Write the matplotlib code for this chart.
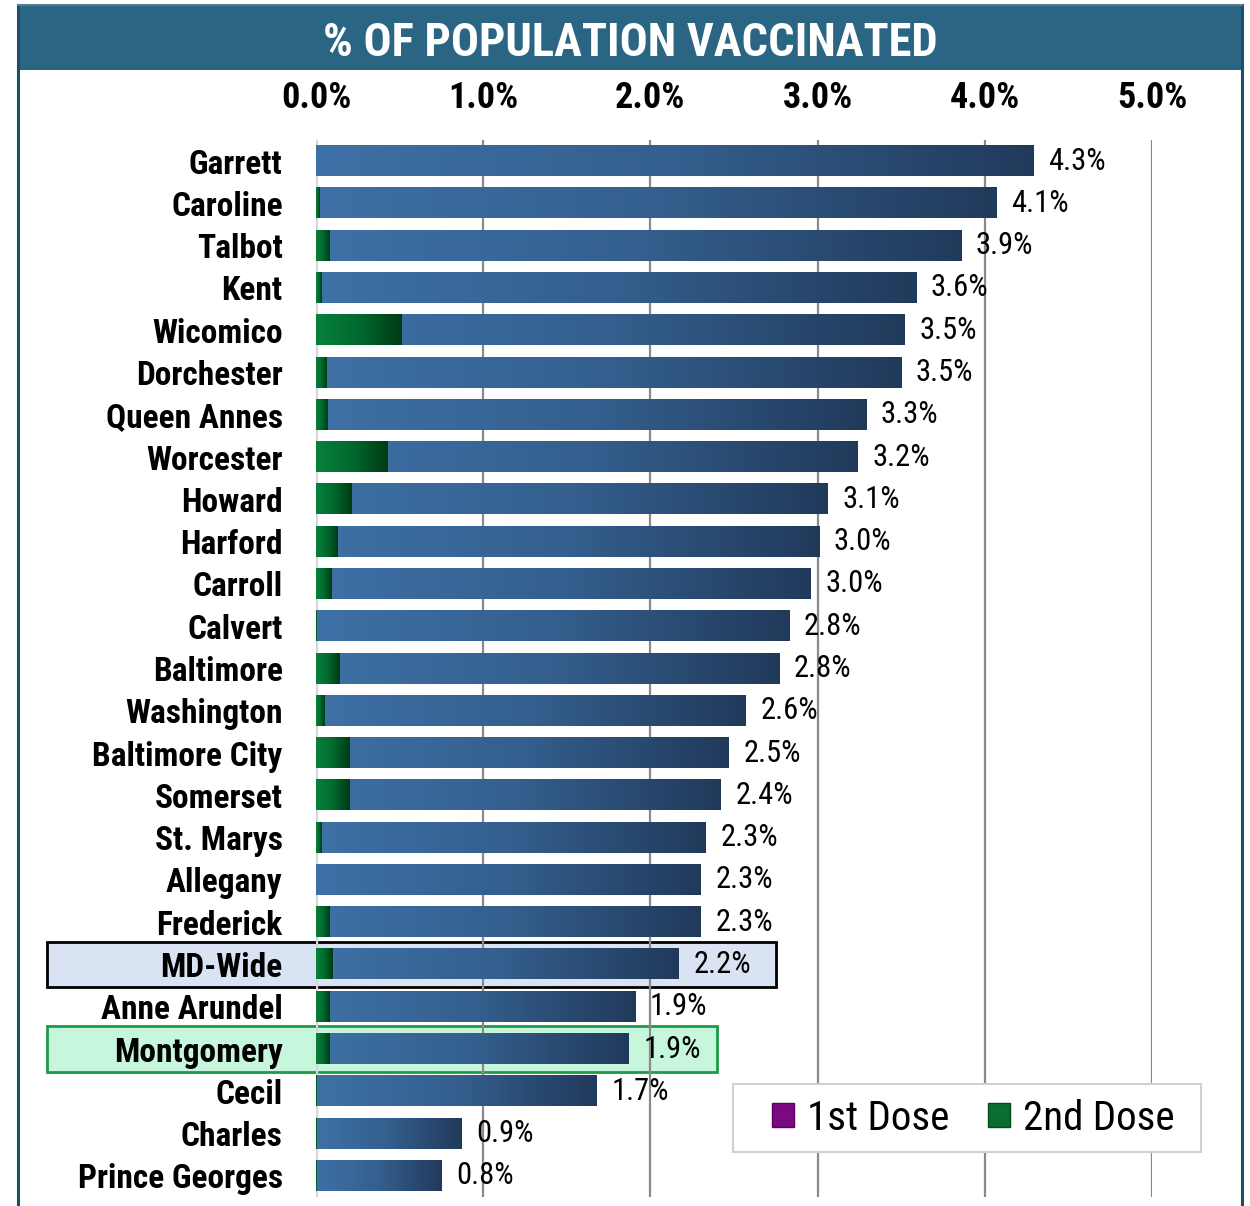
import numpy as np
import matplotlib
matplotlib.use("Agg")
import matplotlib.pyplot as plt
import matplotlib.font_manager as fm
from matplotlib.patches import Rectangle, Patch
from matplotlib.colors import LinearSegmentedColormap

# ---------------- data ----------------
counties = ["Garrett", "Caroline", "Talbot", "Kent", "Wicomico", "Dorchester",
            "Queen Annes", "Worcester", "Howard", "Harford", "Carroll", "Calvert",
            "Baltimore", "Washington", "Baltimore City", "Somerset", "St. Marys",
            "Allegany", "Frederick", "MD-Wide", "Anne Arundel", "Montgomery",
            "Cecil", "Charles", "Prince Georges"]
total_pct = [4.29, 4.07, 3.86, 3.59, 3.52, 3.50, 3.29, 3.24, 3.06, 3.01, 2.96,
             2.83, 2.77, 2.57, 2.47, 2.42, 2.33, 2.30, 2.30, 2.17, 1.91, 1.87,
             1.68, 0.87, 0.75]
second_dose_pct = [0.0, 0.02, 0.08, 0.03, 0.51, 0.06, 0.07, 0.43, 0.21, 0.13, 0.09,
                   0.005, 0.14, 0.05, 0.20, 0.20, 0.03, 0.0, 0.08, 0.10, 0.08, 0.08,
                   0.005, 0.005, 0.005]
value_labels = ["4.3%", "4.1%", "3.9%", "3.6%", "3.5%", "3.5%", "3.3%", "3.2%",
                "3.1%", "3.0%", "3.0%", "2.8%", "2.8%", "2.6%", "2.5%", "2.4%",
                "2.3%", "2.3%", "2.3%", "2.2%", "1.9%", "1.9%", "1.7%", "0.9%", "0.8%"]
xticks = [0, 1, 2, 3, 4, 5]
xtick_labels = ["0.0%", "1.0%", "2.0%", "3.0%", "4.0%", "5.0%"]
legend_labels = ["1st Dose", "2nd Dose"]
title = "% OF POPULATION VACCINATED"

# ---------------- fonts ----------------
avail = {f.name for f in fm.fontManager.ttflist}
FONT = "DejaVu Sans"
for cand in ["Roboto Condensed", "Liberation Sans Narrow", "Open Sans Condensed",
             "DejaVu Sans"]:
    if cand in avail:
        FONT = cand
        break
plt.rcParams["font.family"] = [FONT, "DejaVu Sans"]

W, H = 1250, 1206
fig = plt.figure(figsize=(W / 100, H / 100), dpi=100)
fig.patch.set_facecolor("white")

# ---------------- frame and title band ----------------
band_col = "#2a6584"
frame_col = "#1d4e6c"
fig.patches.append(Rectangle((18 / W, 1 - 70 / H), (1242 - 18) / W, 65 / H,
                             transform=fig.transFigure, facecolor=band_col,
                             edgecolor="none", zorder=0))
fig.add_artist(plt.Line2D([18 / W, 18 / W], [0, 1 - 5 / H], transform=fig.transFigure,
                          color=frame_col, lw=2.2))
fig.add_artist(plt.Line2D([1242 / W, 1242 / W], [0, 1 - 5 / H], transform=fig.transFigure,
                          color=frame_col, lw=2.2))
fig.add_artist(plt.Line2D([18 / W, 1242 / W], [1 - 5 / H, 1 - 5 / H],
                          transform=fig.transFigure, color="#5a7d95", lw=1.5))
fig.text(630 / W, 1 - 43 / H, title, color="white", fontsize=33.5, fontweight="bold",
         ha="center", va="center")

# ---------------- axes ----------------
ax = fig.add_axes([316 / W, 9 / H, 836 / W, (1197 - 140) / H])
n = len(counties)
y = np.arange(n)
bh = 0.71

blue_cmap = LinearSegmentedColormap.from_list("b", ["#3e71a6", "#345f8e", "#213a5b"])
green_cmap = LinearSegmentedColormap.from_list("g", ["#08813b", "#006a2e", "#003a14"])
grad = np.linspace(0, 1, 256).reshape(1, -1)

# highlight boxes
highlight = {"MD-Wide": ("#dae3f3", "#000000", 0.58),
             "Montgomery": ("#c6f7dc", "#1e9a48", 0.53)}
for name, (fc, ec, extra) in highlight.items():
    i = counties.index(name)
    x_left = -269 / 167.2
    x_right = total_pct[i] + extra
    ax.add_patch(Rectangle((x_left, i - 0.54), x_right - x_left, 1.08, facecolor=fc,
                           edgecolor=ec, lw=2, clip_on=False, zorder=0.5))

# gridlines
for t in xticks:
    ax.axvline(t, color="#d6d6d6" if t == 0 else "#8a8a8a",
               lw=2.4 if t == 0 else 1.6, zorder=1)

bars_total = ax.barh(y, total_pct, height=bh, color="#30557f", zorder=2)
bars_second = ax.barh(y, second_dose_pct, height=bh, color="#066a2e", zorder=3)

for bar in bars_total:
    x0, y0 = bar.get_x(), bar.get_y()
    w, h = bar.get_width(), bar.get_height()
    if w <= 0:
        continue
    ax.imshow(grad, cmap=blue_cmap, aspect="auto", extent=[x0, x0 + w, y0, y0 + h],
              zorder=2.5, interpolation="bilinear")
for bar in bars_second:
    x0, y0 = bar.get_x(), bar.get_y()
    w, h = bar.get_width(), bar.get_height()
    if w <= 0:
        continue
    ax.imshow(grad, cmap=green_cmap, aspect="auto", extent=[x0, x0 + w, y0, y0 + h],
              zorder=3.5, interpolation="bilinear")

ax.bar_label(bars_total, labels=value_labels, padding=10.5, fontsize=22,
             color="black", zorder=5)

ax.set_xlim(0, 5)
ax.set_ylim(n - 0.5, -0.5)
ax.set_aspect("auto")
ax.xaxis.tick_top()
ax.set_xticks(xticks)
ax.set_xticklabels(xtick_labels, fontsize=26, fontweight="bold")
ax.tick_params(axis="x", length=0, pad=17)
ax.set_yticks(y)
ax.set_yticklabels(counties, fontsize=24, fontweight="bold")
ax.tick_params(axis="y", length=0, pad=24)
for s in ax.spines.values():
    s.set_visible(False)
ax.set_facecolor("none")

# legend box + legend
fig.patches.append(Rectangle((733 / W, 1 - 1152 / H), (1201 - 733) / W, 68 / H,
                             transform=fig.transFigure, facecolor="white",
                             edgecolor="#d0d0d0", lw=1.5, zorder=4))
handles = [Patch(facecolor="#7a0a80", edgecolor="#5a0060"),
           Patch(facecolor="#0a6e30", edgecolor="#004d1c")]
leg = fig.legend(handles, legend_labels, loc="center",
                 bbox_to_anchor=(973 / W, 1 - 1118 / H), ncol=2, fontsize=29.5,
                 frameon=False, handlelength=0.55, handleheight=0.55,
                 handletextpad=0.3, columnspacing=0.95, borderpad=0,
                 borderaxespad=0)
leg.set_zorder(5)

fig.savefig("out.png", dpi=100, facecolor="white")
